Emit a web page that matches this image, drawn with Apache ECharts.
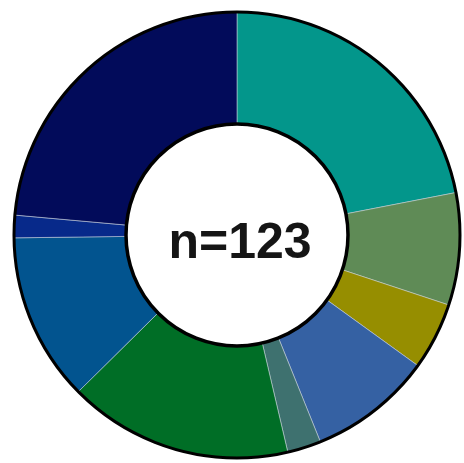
<!DOCTYPE html>
<html>
<head>
<meta charset="utf-8">
<script src="https://cdn.jsdelivr.net/npm/echarts@6/dist/echarts.min.js"></script>
<style>
  html, body { margin: 0; padding: 0; background: #fff; }
  #chart { width: 464px; height: 463px; }
</style>
</head>
<body>
<div id="chart"></div>
<script>
// slices, clockwise from 12 o'clock
const categories = ["A", "B", "C", "D", "E", "F", "G", "H", "I"];
const counts = [27, 10, 6, 11, 3, 20, 15, 2, 29];
const colors = ["#03968b", "#5f8b56", "#968e00", "#3561a3", "#3e716f", "#006e26", "#02548f", "#07298a", "#020b5a"];
const total = counts.reduce((a, b) => a + b, 0);

const cx = 237, cy = 235, rIn = 111, rOut = 223;

const chart = echarts.init(document.getElementById("chart"));

chart.setOption({
  animation: false,
  series: [
    {
      type: "pie",
      center: [cx, cy],
      radius: [rIn, rOut],
      startAngle: 90,
      clockwise: true,
      label: { show: false },
      labelLine: { show: false },
      itemStyle: {
        borderColor: "rgba(200,210,220,0.55)",
        borderWidth: 1
      },
      data: categories.map((c, i) => ({
        name: c,
        value: counts[i],
        itemStyle: { color: colors[i] }
      }))
    }
  ],
  graphic: [
    {
      type: "circle",
      shape: { cx: cx, cy: cy, r: rOut },
      style: { fill: "none", stroke: "#000", lineWidth: 3 },
      z: 100
    },
    {
      type: "circle",
      shape: { cx: cx, cy: cy, r: rIn },
      style: { fill: "#fff", stroke: "#000", lineWidth: 3.5 },
      z: 100
    },
    {
      type: "text",
      x: cx + 3,
      y: cy + 9,
      style: {
        text: "n=" + total,
        font: "bold 50px 'Liberation Sans', Arial, sans-serif",
        fill: "#151515",
        textAlign: "center",
        textVerticalAlign: "middle"
      },
      z: 101
    }
  ]
});
</script>
</body>
</html>
